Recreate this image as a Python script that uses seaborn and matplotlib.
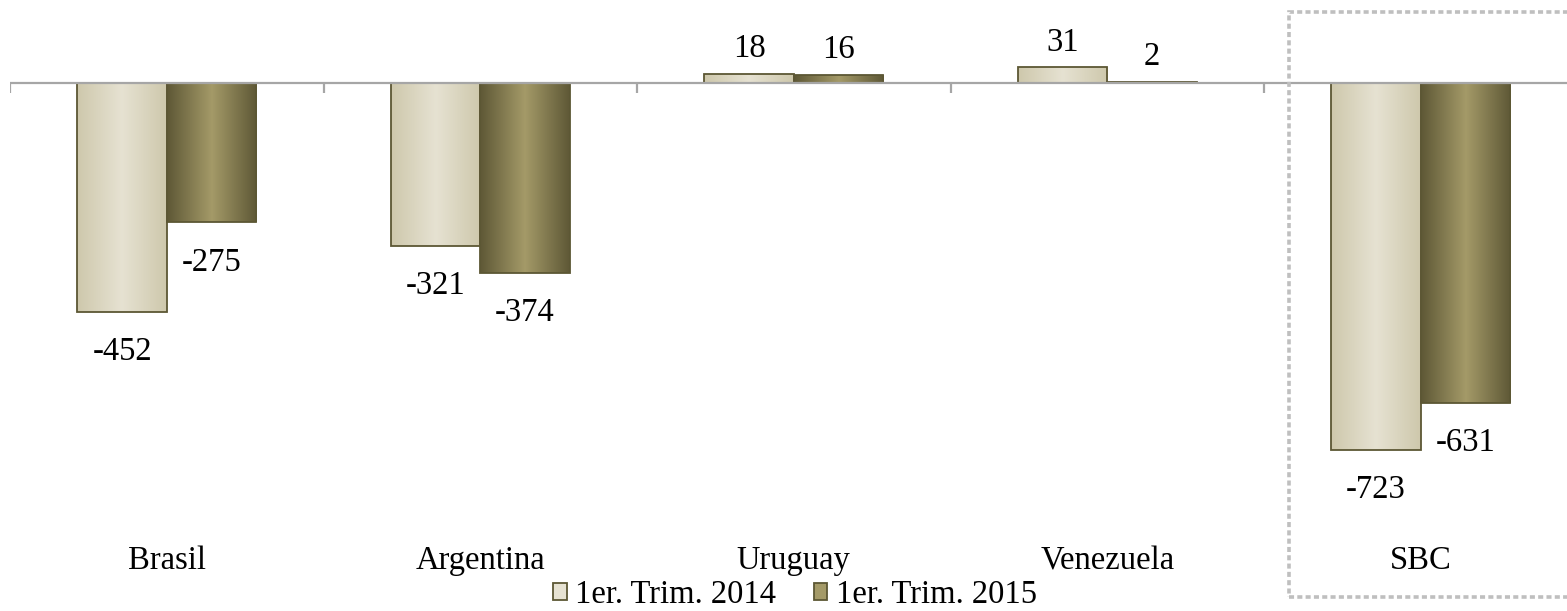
import numpy as np
import pandas as pd
import matplotlib
matplotlib.use("Agg")
import matplotlib.pyplot as plt
import seaborn as sns
from matplotlib.patches import Rectangle, Patch
from matplotlib.colors import LinearSegmentedColormap

categories = ["Brasil", "Argentina", "Uruguay", "Venezuela", "SBC"]
series_names = ["1er. Trim. 2014", "1er. Trim. 2015"]
values_2014 = [-452, -321, 18, 31, -723]
values_2015 = [-275, -374, 16, 2, -631]

sns.set_theme(style="white")
plt.rcParams['font.family'] = ['Liberation Serif', 'DejaVu Serif']
FS = 23.5

df = pd.DataFrame({
    "cat": categories * 2,
    "serie": [series_names[0]] * len(categories) + [series_names[1]] * len(categories),
    "val": values_2014 + values_2015,
})

W, H = 1567, 611
fig = plt.figure(figsize=(W / 100, H / 100), dpi=100)
px_per_unit = 0.507
zero_px = 83
ax_bottom_px = 540
ax = fig.add_axes([10 / W, (H - ax_bottom_px) / H, 5 * 313.5 / W, ax_bottom_px / H])

light_edge = (206/255, 200/255, 172/255)
light_mid = (230/255, 226/255, 210/255)
dark_edge = (94/255, 88/255, 54/255)
dark_mid = (164/255, 154/255, 104/255)
edge_col = (92/255, 87/255, 52/255)

sns.barplot(data=df, x="cat", y="val", hue="serie", order=categories,
            hue_order=series_names, palette=[light_mid, dark_mid],
            width=0.57, legend=False, ax=ax, edgecolor=edge_col, linewidth=1.3)

cmaps = [LinearSegmentedColormap.from_list("l", [light_edge, light_mid, light_edge]),
         LinearSegmentedColormap.from_list("d", [dark_edge, dark_mid, dark_edge])]
grad = np.linspace(0, 1, 256).reshape(1, -1)
for ci, cont in enumerate(ax.containers):
    for bar in cont:
        x0, y0 = bar.get_x(), bar.get_y()
        w, h = bar.get_width(), bar.get_height()
        im = ax.imshow(grad, cmap=cmaps[ci], aspect="auto",
                       extent=[x0, x0 + w, min(y0, y0 + h), max(y0, y0 + h)],
                       zorder=2, interpolation="bicubic")
        im.set_clip_path(bar)
        bar.set_facecolor("none")
        bar.set_zorder(3)
ax.set_xlim(-0.5, 4.5)
ax.set_ylim(-(ax_bottom_px - zero_px) / px_per_unit, zero_px / px_per_unit)

# value labels
for ci, cont in enumerate(ax.containers):
    vals = [values_2014, values_2015][ci]
    for bar, v in zip(cont, vals):
        xc = bar.get_x() + bar.get_width() / 2
        off = 25 if v >= 0 else -40
        ax.annotate(f"{v}", (xc, v), xytext=(0, off * 0.72), textcoords="offset points",
                    ha="center", va="center", fontsize=FS, color="black")

# zero line and category boundary ticks
ax.axhline(0, color="#a6a6a6", lw=1.6, zorder=4)
bounds = np.arange(len(categories) + 1) - 0.5
ax.vlines(bounds, -19, 0, color="#a6a6a6", lw=1.6, zorder=4)

for s in ax.spines.values():
    s.set_visible(False)
ax.set_yticks([])
ax.set_xlabel("")
ax.set_ylabel("")
ax.tick_params(axis="x", length=0, pad=4, labelsize=FS, labelcolor="black")

# legend
handles = [Patch(facecolor=light_mid, edgecolor=edge_col, lw=1.3),
           Patch(facecolor=dark_mid, edgecolor=edge_col, lw=1.3)]
leg = fig.legend(handles, series_names, loc="center", bbox_to_anchor=(795 / W, 1 - 595 / H),
                 ncol=2, frameon=False, fontsize=FS, handlelength=0.42, handleheight=0.42,
                 handletextpad=0.25, columnspacing=1.15, borderpad=0)
for t in leg.get_texts():
    t.set_color("black")

# dotted highlight frame
fig.patches.append(Rectangle((1289 / W, (H - 597) / H), 0.3, (597 - 12) / H,
                             transform=fig.transFigure, fill=False,
                             edgecolor="#bfbfbf", lw=2.6, linestyle=(0, (1.4, 0.9))))

fig.savefig("out.png", dpi=100)
